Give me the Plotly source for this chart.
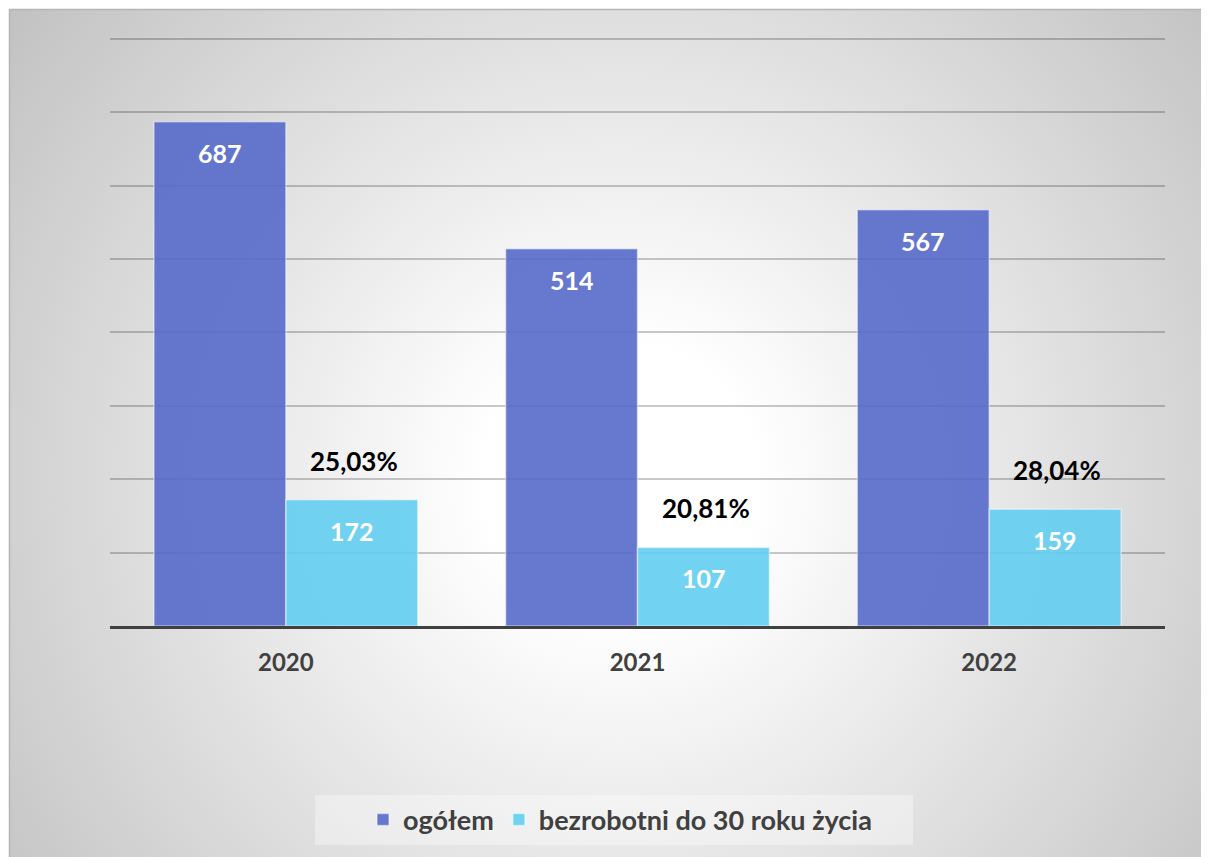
import base64
import plotly.graph_objects as go

# ---- data ----
years = ["2020", "2021", "2022"]
ogolem = [687, 514, 567]
mlodzi = [172, 107, 159]
percent_labels = ["25,03%", "20,81%", "28,04%"]
series_names = ["ogółem", "bezrobotni do 30 roku życia"]

# ---- geometry (figure sits at page offset 8px because of body margin) ----
OFF = 8
W, H = 1201, 849
ML, MR, MT, MB = 102, 44, 27, 231
PW, PH = W - ML - MR, H - MT - MB
YMAX = 805

FONT = "Lato"
C_BLUE = "rgba(85,106,202,0.9)"
C_CYAN = "rgba(98,205,241,0.9)"

fig = go.Figure()
fig.add_trace(go.Bar(
    x=years, y=ogolem, name=series_names[0],
    marker=dict(color=C_BLUE, line=dict(color="rgba(255,255,255,0.45)", width=1.5)),
    hoverinfo="skip",
))
fig.add_trace(go.Bar(
    x=years, y=mlodzi, name=series_names[1],
    marker=dict(color=C_CYAN, line=dict(color="rgba(255,255,255,0.45)", width=1.5)),
    hoverinfo="skip",
))

annotations = []
for i, yr in enumerate(years):
    annotations.append(dict(x=i, y=ogolem[i], xref="x", yref="y", text=str(ogolem[i]),
                            showarrow=False, xshift=-66, yshift=-31, yanchor="middle",
                            font=dict(family=FONT, size=25, color="white", weight="bold")))
    annotations.append(dict(x=i, y=mlodzi[i], xref="x", yref="y", text=str(mlodzi[i]),
                            showarrow=False, xshift=66, yshift=-31, yanchor="middle",
                            font=dict(family=FONT, size=25, color="white", weight="bold")))
    annotations.append(dict(x=i, y=mlodzi[i], xref="x", yref="y", text=percent_labels[i],
                            showarrow=False, xshift=68, yshift=39, yanchor="middle",
                            font=dict(family=FONT, size=26, color="black", weight="bold")))

svg = (
    "<svg xmlns='http://www.w3.org/2000/svg' width='1200' height='848' viewBox='0 0 1200 848' "
    "preserveAspectRatio='none'><defs><radialGradient id='g' gradientUnits='userSpaceOnUse' "
    "cx='611' cy='471' r='800'><stop offset='0' stop-color='#ffffff'/>"
    "<stop offset='0.17' stop-color='#ffffff'/><stop offset='1' stop-color='#bfbfbf'/>"
    "</radialGradient></defs><rect width='1200' height='848' fill='url(#g)'/></svg>"
)
src = "data:image/svg+xml;base64," + base64.b64encode(svg.encode()).decode()

def px_x(p):  # page pixel -> paper x
    return (p - OFF - ML) / PW

def px_y(p):  # page pixel -> paper y
    return (H - MB - (p - OFF)) / PH

fig.update_layout(
    width=W, height=H,
    margin=dict(l=ML, r=MR, t=MT, b=MB),
    paper_bgcolor="white",
    plot_bgcolor="rgba(0,0,0,0)",
    barmode="group", bargap=0.25, bargroupgap=0.0,
    font=dict(family=FONT, color="#404040"),
    images=[dict(source=src, xref="paper", yref="paper",
                 x=px_x(9), y=px_y(9), sizex=1200 / PW, sizey=848 / PH,
                 xanchor="left", yanchor="top", sizing="stretch", layer="below")],
    shapes=[
        dict(type="rect", xref="paper", yref="paper", x0=px_x(9.5), x1=px_x(1215),
             y0=px_y(863), y1=px_y(9.5), line=dict(color="#b5b5b5", width=1.5),
             fillcolor="rgba(0,0,0,0)", layer="below"),
        dict(type="rect", xref="paper", yref="paper", x0=px_x(315), x1=px_x(913),
             y0=px_y(845), y1=px_y(795), line=dict(width=0),
             fillcolor="rgba(255,255,255,0.35)", layer="below"),
    ],
    annotations=annotations,
    xaxis=dict(type="category", categoryorder="array", categoryarray=years,
               range=[-0.5, len(years) - 0.5], autorange=False,
               showline=True, linecolor="#404040", linewidth=3, ticks="",
               tickfont=dict(family=FONT, size=24, color="#404040", weight="bold"),
               ticklabelstandoff=13, showgrid=False),
    yaxis=dict(range=[0, YMAX], autorange=False, tick0=0, dtick=100, showticklabels=False,
               zeroline=False, showgrid=True, gridcolor="rgba(0,0,0,0.21)", gridwidth=1.5),
    legend=dict(orientation="h", x=px_x(620), xanchor="center", y=px_y(820), yanchor="middle",
                bgcolor="rgba(0,0,0,0)", font=dict(family=FONT, size=27, color="#404040", weight="bold"),
                itemwidth=30, traceorder="normal"),
    showlegend=True,
)

fig.write_html("out.html")
